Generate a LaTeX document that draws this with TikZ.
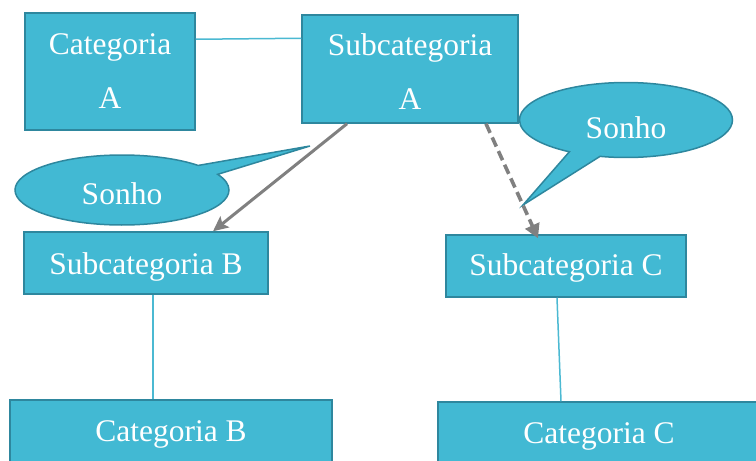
\documentclass[tikz,border=0pt]{standalone}
\usepackage{fontspec}
\setmainfont{Liberation Serif}
\usetikzlibrary{shapes.callouts,shapes.geometric,arrows.meta,calc}

\definecolor{boxfill}{RGB}{66,185,211}
\definecolor{boxline}{RGB}{46,135,158}
\definecolor{linkline}{RGB}{75,185,210}
\definecolor{arrowgray}{RGB}{128,128,128}

% invisible struts that push a line of text a little below the centre
\newcommand{\lowstrut}[1]{\rule{0pt}{#1}}

\begin{document}
\begin{tikzpicture}[x=1pt,y=-1pt,
  box/.style={draw=boxline, fill=boxfill, line width=1.5pt, text=white,
    font=\fontsize{31.5}{54}\selectfont, align=center, inner sep=0pt},
  bubble/.style={ellipse callout, draw=boxline, fill=boxfill, line width=1.5pt,
    text=white, font=\fontsize{31.5}{38}\selectfont, inner sep=0pt,
    callout pointer arc=18},
  link/.style={draw=linkline, line width=1.5pt},
  flow/.style={draw=arrowgray, line width=3pt,
    -{Stealth[length=15pt,width=14pt,inset=3pt]}},
  dashedflow/.style={draw=arrowgray, line width=3.6pt,
    dash pattern=on 10pt off 5pt,
    -{Triangle[length=14pt,width=15pt]}}]

\useasboundingbox (0,0) rectangle (756,461);

% category and subcategory boxes
\node[box, minimum width=170pt, minimum height=117pt] (catA) at (110,71.5) {Categoria\\A};
\node[box, minimum width=216pt, minimum height=108pt] (subA) at (410,69) {\lowstrut{27pt}Subcategoria\\A};
\node[box, minimum width=244pt, minimum height=62pt] (subB) at (146,263) {\lowstrut{29pt}Subcategoria B};
\node[box, minimum width=240pt, minimum height=62pt] (subC) at (566,266) {\lowstrut{26pt}Subcategoria C};
\node[box, minimum width=322pt, minimum height=68pt] (catB) at (171,434) {Categoria B};
\node[box, minimum width=322pt, minimum height=68pt] (catC) at (599,436) {Categoria C};

% speech bubbles
\node[bubble, minimum width=214pt, minimum height=70pt,
  callout absolute pointer={(310,146)}] (dreamB) at (122,190) {\lowstrut{29pt}Sonho};
\node[bubble, minimum width=213pt, minimum height=75pt,
  callout absolute pointer={(523,205)}] (dreamC) at (626,120) {\lowstrut{37pt}Sonho};

% plain links
\draw[link] ([yshift=-27pt]catA.north east) -- ([yshift=-24pt]subA.north west);
\draw[link] ([xshift=7pt]subB.south) -- ([xshift=-18pt]catB.north);
\draw[link] ([xshift=-9pt]subC.south) -- ([xshift=-38pt]catC.north);

% arrows
\draw[flow] ([xshift=-63pt]subA.south) -- ([xshift=67pt]subB.north);
\draw[dashedflow] ([xshift=76pt]subA.south) -- ([xshift=-28pt,yshift=-4pt]subC.north);
\end{tikzpicture}
\end{document}
